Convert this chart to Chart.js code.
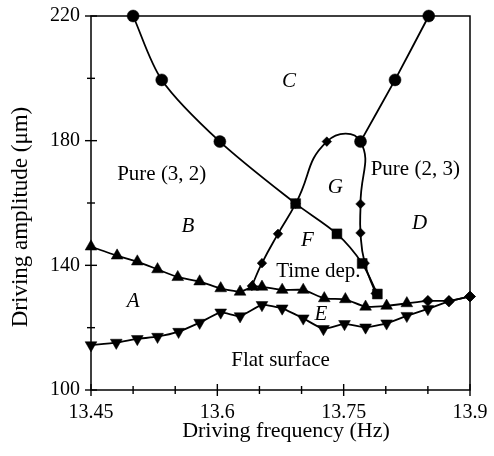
<!DOCTYPE html>
<html><head><meta charset="utf-8">
<script src="https://cdn.jsdelivr.net/npm/chart.js@4"></script>
<style>html,body{margin:0;padding:0;background:#fff}</style>
</head><body>
<canvas id="c" width="494" height="456"></canvas>
<script>
// ---- axes ----
const xTicks = [13.45,13.5,13.55,13.6,13.65,13.7,13.75,13.8,13.85,13.9];
const xTickLabels = ['13.45','','','13.6','','','13.75','','','13.9'];
const yTicks = [100,120,140,160,180,200,220];
const yTickLabels = ['100','','140','','180','','220'];
const xTitle = 'Driving frequency (Hz)';
const yTitle = 'Driving amplitude (\u03bcm)';

// ---- series (frequency Hz, amplitude um) ----
const leftCircles = [[13.50,220],[13.534,199.5],[13.603,179.7]];
const leftSquares = [[13.693,159.8],[13.742,150.1],[13.772,140.6],[13.790,130.8]];
const rightCircles = [[13.851,220],[13.811,199.5],[13.770,179.7]];
const gDiamonds = [[13.641,133.4],[13.653,140.7],[13.672,150.1],[13.693,159.8],[13.730,179.7],[13.770,179.7],[13.770,159.7],[13.770,150.4],[13.775,140.7],[13.788,131.0]];
const upTriangles = [[13.45,146.0],[13.481,143.1],[13.505,141.2],[13.529,138.7],[13.553,136.2],[13.579,134.8],[13.604,132.6],[13.627,131.5],[13.642,133.1],[13.653,133.1],[13.677,132.1],[13.702,132.1],[13.727,129.4],[13.752,129.1],[13.776,126.7],[13.801,127.0],[13.825,127.8]];
const upDiamonds = [[13.850,128.6],[13.875,128.6],[13.9,130.0]];
const downTriangles = [[13.45,114.4],[13.48,115.2],[13.505,116.4],[13.529,117.1],[13.554,118.7],[13.579,121.6],[13.604,124.9],[13.627,123.7],[13.653,127.3],[13.677,126.2],[13.702,123.0],[13.726,119.6],[13.751,121.2],[13.776,120.1],[13.801,121.4],[13.825,123.8],[13.850,126.0]];
const downDiamonds = [[13.875,128.4],[13.9,130.0]];

// ---- region labels ----
const labelTexts = ['C','Pure (3, 2)','B','G','Pure (2, 3)','D','F','Time dep.','A','E','Flat surface'];
const labelX = [13.685,13.534,13.565,13.740,13.835,13.840,13.707,13.720,13.500,13.723,13.675];
const labelY = [198.9,169.0,152.6,165.1,170.6,153.5,148.1,138.0,128.3,124.1,109.6];
const labelItalic = [true,false,true,true,false,true,true,false,true,true,false];

const pts = a => a.map(p => ({x:p[0], y:p[1]}));
const SERIF = '"Liberation Serif","Times New Roman",serif';

const base = {
  borderColor:'#000', backgroundColor:'#000', borderWidth:1.8,
  pointBackgroundColor:'#000', pointBorderColor:'#000', pointBorderWidth:0.5,
  fill:false, clip:false, showLine:true
};

const datasets = [
  Object.assign({}, base, {
    data: pts(leftCircles.concat(leftSquares)), tension:0.3,
    pointStyle: c => c.dataIndex < leftCircles.length ? 'circle' : 'rect',
    pointRadius: c => c.dataIndex < leftCircles.length ? 6 : 7
  }),
  Object.assign({}, base, {
    data: pts(rightCircles), tension:0.1, pointStyle:'circle', pointRadius:6
  }),
  Object.assign({}, base, {
    data: pts(gDiamonds), tension:0.5, pointStyle:'rectRot', pointRadius:4.8
  }),
  Object.assign({}, base, {
    data: pts(upTriangles.concat(upDiamonds)), tension:0.15,
    pointStyle: c => c.dataIndex < upTriangles.length ? 'triangle' : 'rectRot',
    pointRadius: c => c.dataIndex < upTriangles.length ? 6.8 : 5.5
  }),
  Object.assign({}, base, {
    data: pts(downTriangles.concat(downDiamonds)), tension:0.15,
    pointStyle: c => c.dataIndex < downTriangles.length ? 'triangle' : 'rectRot',
    pointRotation: c => c.dataIndex < downTriangles.length ? 180 : 0,
    pointRadius: c => c.dataIndex < downTriangles.length ? 6.8 : 5.5
  })
];

const decor = {
  id:'decor',
  afterDraw(chart){
    const {ctx, chartArea:a, scales:{x, y}} = chart;
    ctx.save();
    ctx.strokeStyle = '#000';
    ctx.lineWidth = 1.5;
    ctx.strokeRect(a.left, a.top, a.right - a.left, a.bottom - a.top);
    ctx.lineWidth = 1.4;
    xTicks.forEach((v,i) => {
      const px = x.getPixelForValue(v), L = xTickLabels[i] ? 6 : 4;
      ctx.beginPath(); ctx.moveTo(px, a.bottom - L); ctx.lineTo(px, a.bottom + L); ctx.stroke();
    });
    yTicks.forEach((v,i) => {
      const py = y.getPixelForValue(v), L = yTickLabels[i] ? 6 : 4;
      ctx.beginPath(); ctx.moveTo(a.left - L, py); ctx.lineTo(a.left + L, py); ctx.stroke();
    });
    ctx.fillStyle = '#000';
    ctx.textAlign = 'center'; ctx.textBaseline = 'middle';
    labelTexts.forEach((t,i) => {
      ctx.font = (labelItalic[i] ? 'italic ' : '') + '21px ' + SERIF;
      ctx.fillText(t, x.getPixelForValue(labelX[i]), y.getPixelForValue(labelY[i]));
    });
    ctx.font = '22px ' + SERIF;
    ctx.fillText(xTitle, 286, 431);
    ctx.save();
    ctx.translate(21, 217); ctx.rotate(-Math.PI/2);
    ctx.font = '23px ' + SERIF;
    ctx.fillText(yTitle, 0, 0);
    ctx.restore();
    ctx.restore();
  }
};

const noPad = s => { s.paddingLeft = 0; s.paddingRight = 0; s.paddingTop = 0; s.paddingBottom = 0; };

new Chart(document.getElementById('c'), {
  type:'line',
  data:{ datasets },
  options:{
    responsive:false, animation:false, events:[],
    layout:{padding:{left:0, right:24, top:16, bottom:0}},
    plugins:{legend:{display:false}, tooltip:{enabled:false}},
    scales:{
      x:{
        type:'linear', min:13.45, max:13.9,
        grid:{display:false, drawTicks:false}, border:{display:false},
        afterBuildTicks: s => { s.ticks = xTicks.map(v => ({value:v})); },
        afterFit: s => { s.height = 66; noPad(s); },
        ticks:{autoSkip:false, maxRotation:0, padding:11, color:'#000',
          font:{family:SERIF, size:20},
          callback: v => xTickLabels[xTicks.findIndex(t => Math.abs(t - v) < 1e-6)] || ''}
      },
      y:{
        type:'linear', min:100, max:220,
        grid:{display:false, drawTicks:false}, border:{display:false},
        afterBuildTicks: s => { s.ticks = yTicks.map(v => ({value:v})); },
        afterFit: s => { s.width = 91; noPad(s); },
        ticks:{autoSkip:false, padding:11, color:'#000',
          font:{family:SERIF, size:20},
          callback: v => yTickLabels[yTicks.indexOf(v)] || ''}
      }
    }
  },
  plugins:[decor]
});
</script>
</body></html>
